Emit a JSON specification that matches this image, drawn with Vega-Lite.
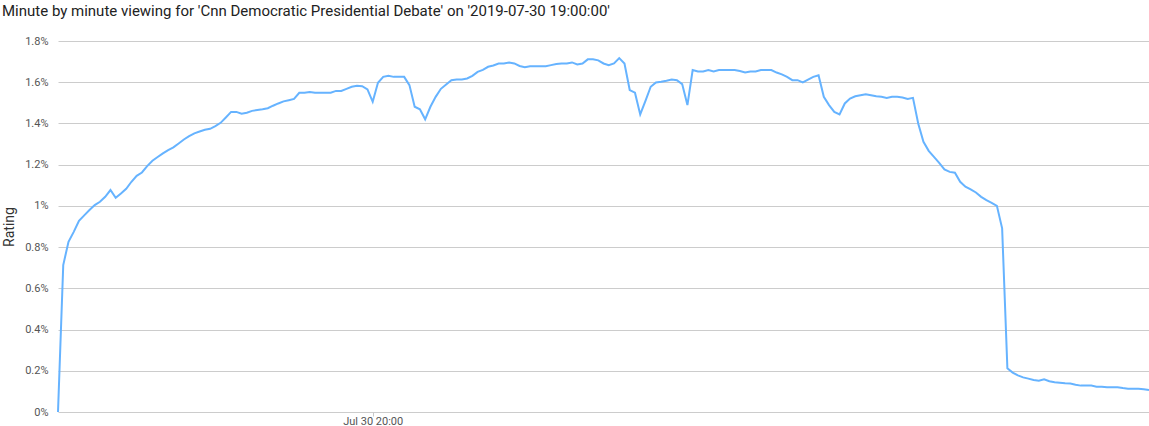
{
  "$schema": "https://vega.github.io/schema/vega-lite/v6.json",
  "autosize": {"type": "none"},
  "padding": {"left": 58, "top": 41, "right": 0, "bottom": 14},
  "width": 1091,
  "height": 371,
  "title": {
    "text": "Minute by minute viewing for 'Cnn Democratic Presidential Debate' on '2019-07-30 19:00:00'",
    "anchor": "start",
    "frame": "group",
    "dx": -56,
    "offset": 16,
    "font": "Roboto",
    "fontSize": 15,
    "fontWeight": "normal",
    "color": "#222222"
  },
  "config": {
    "view": {"stroke": null},
    "font": "Roboto"
  },
  "data": {
    "values": [
      {"t": "2019-07-30T19:00:00", "r": 0},
      {"t": "2019-07-30T19:01:00", "r": 0.713},
      {"t": "2019-07-30T19:02:00", "r": 0.826},
      {"t": "2019-07-30T19:03:00", "r": 0.874},
      {"t": "2019-07-30T19:04:00", "r": 0.928},
      {"t": "2019-07-30T19:05:00", "r": 0.954},
      {"t": "2019-07-30T19:06:00", "r": 0.98},
      {"t": "2019-07-30T19:07:00", "r": 1.004},
      {"t": "2019-07-30T19:08:00", "r": 1.02},
      {"t": "2019-07-30T19:09:00", "r": 1.044},
      {"t": "2019-07-30T19:10:00", "r": 1.077},
      {"t": "2019-07-30T19:11:00", "r": 1.039},
      {"t": "2019-07-30T19:12:00", "r": 1.06},
      {"t": "2019-07-30T19:13:00", "r": 1.083},
      {"t": "2019-07-30T19:14:00", "r": 1.117},
      {"t": "2019-07-30T19:15:00", "r": 1.146},
      {"t": "2019-07-30T19:16:00", "r": 1.162},
      {"t": "2019-07-30T19:17:00", "r": 1.193},
      {"t": "2019-07-30T19:18:00", "r": 1.219},
      {"t": "2019-07-30T19:19:00", "r": 1.237},
      {"t": "2019-07-30T19:20:00", "r": 1.255},
      {"t": "2019-07-30T19:21:00", "r": 1.271},
      {"t": "2019-07-30T19:22:00", "r": 1.284},
      {"t": "2019-07-30T19:23:00", "r": 1.303},
      {"t": "2019-07-30T19:24:00", "r": 1.322},
      {"t": "2019-07-30T19:25:00", "r": 1.338},
      {"t": "2019-07-30T19:26:00", "r": 1.352},
      {"t": "2019-07-30T19:27:00", "r": 1.361},
      {"t": "2019-07-30T19:28:00", "r": 1.369},
      {"t": "2019-07-30T19:29:00", "r": 1.374},
      {"t": "2019-07-30T19:30:00", "r": 1.387},
      {"t": "2019-07-30T19:31:00", "r": 1.403},
      {"t": "2019-07-30T19:32:00", "r": 1.429},
      {"t": "2019-07-30T19:33:00", "r": 1.456},
      {"t": "2019-07-30T19:34:00", "r": 1.456},
      {"t": "2019-07-30T19:35:00", "r": 1.447},
      {"t": "2019-07-30T19:36:00", "r": 1.452},
      {"t": "2019-07-30T19:37:00", "r": 1.461},
      {"t": "2019-07-30T19:38:00", "r": 1.465},
      {"t": "2019-07-30T19:39:00", "r": 1.469},
      {"t": "2019-07-30T19:40:00", "r": 1.474},
      {"t": "2019-07-30T19:41:00", "r": 1.486},
      {"t": "2019-07-30T19:42:00", "r": 1.497},
      {"t": "2019-07-30T19:43:00", "r": 1.507},
      {"t": "2019-07-30T19:44:00", "r": 1.513},
      {"t": "2019-07-30T19:45:00", "r": 1.519},
      {"t": "2019-07-30T19:46:00", "r": 1.549},
      {"t": "2019-07-30T19:47:00", "r": 1.549},
      {"t": "2019-07-30T19:48:00", "r": 1.553},
      {"t": "2019-07-30T19:49:00", "r": 1.549},
      {"t": "2019-07-30T19:50:00", "r": 1.549},
      {"t": "2019-07-30T19:51:00", "r": 1.549},
      {"t": "2019-07-30T19:52:00", "r": 1.549},
      {"t": "2019-07-30T19:53:00", "r": 1.558},
      {"t": "2019-07-30T19:54:00", "r": 1.558},
      {"t": "2019-07-30T19:55:00", "r": 1.568},
      {"t": "2019-07-30T19:56:00", "r": 1.578},
      {"t": "2019-07-30T19:57:00", "r": 1.583},
      {"t": "2019-07-30T19:58:00", "r": 1.581},
      {"t": "2019-07-30T19:59:00", "r": 1.565},
      {"t": "2019-07-30T20:00:00", "r": 1.505},
      {"t": "2019-07-30T20:01:00", "r": 1.597},
      {"t": "2019-07-30T20:02:00", "r": 1.626},
      {"t": "2019-07-30T20:03:00", "r": 1.631},
      {"t": "2019-07-30T20:04:00", "r": 1.626},
      {"t": "2019-07-30T20:05:00", "r": 1.626},
      {"t": "2019-07-30T20:06:00", "r": 1.626},
      {"t": "2019-07-30T20:07:00", "r": 1.586},
      {"t": "2019-07-30T20:08:00", "r": 1.481},
      {"t": "2019-07-30T20:09:00", "r": 1.469},
      {"t": "2019-07-30T20:10:00", "r": 1.42},
      {"t": "2019-07-30T20:11:00", "r": 1.481},
      {"t": "2019-07-30T20:12:00", "r": 1.529},
      {"t": "2019-07-30T20:13:00", "r": 1.568},
      {"t": "2019-07-30T20:14:00", "r": 1.589},
      {"t": "2019-07-30T20:15:00", "r": 1.61},
      {"t": "2019-07-30T20:16:00", "r": 1.613},
      {"t": "2019-07-30T20:17:00", "r": 1.613},
      {"t": "2019-07-30T20:18:00", "r": 1.618},
      {"t": "2019-07-30T20:19:00", "r": 1.631},
      {"t": "2019-07-30T20:20:00", "r": 1.65},
      {"t": "2019-07-30T20:21:00", "r": 1.66},
      {"t": "2019-07-30T20:22:00", "r": 1.675},
      {"t": "2019-07-30T20:23:00", "r": 1.681},
      {"t": "2019-07-30T20:24:00", "r": 1.691},
      {"t": "2019-07-30T20:25:00", "r": 1.691},
      {"t": "2019-07-30T20:26:00", "r": 1.696},
      {"t": "2019-07-30T20:27:00", "r": 1.691},
      {"t": "2019-07-30T20:28:00", "r": 1.679},
      {"t": "2019-07-30T20:29:00", "r": 1.673},
      {"t": "2019-07-30T20:30:00", "r": 1.678},
      {"t": "2019-07-30T20:31:00", "r": 1.678},
      {"t": "2019-07-30T20:32:00", "r": 1.678},
      {"t": "2019-07-30T20:33:00", "r": 1.678},
      {"t": "2019-07-30T20:34:00", "r": 1.683},
      {"t": "2019-07-30T20:35:00", "r": 1.688},
      {"t": "2019-07-30T20:36:00", "r": 1.691},
      {"t": "2019-07-30T20:37:00", "r": 1.691},
      {"t": "2019-07-30T20:38:00", "r": 1.696},
      {"t": "2019-07-30T20:39:00", "r": 1.686},
      {"t": "2019-07-30T20:40:00", "r": 1.691},
      {"t": "2019-07-30T20:41:00", "r": 1.711},
      {"t": "2019-07-30T20:42:00", "r": 1.711},
      {"t": "2019-07-30T20:43:00", "r": 1.706},
      {"t": "2019-07-30T20:44:00", "r": 1.691},
      {"t": "2019-07-30T20:45:00", "r": 1.683},
      {"t": "2019-07-30T20:46:00", "r": 1.691},
      {"t": "2019-07-30T20:47:00", "r": 1.717},
      {"t": "2019-07-30T20:48:00", "r": 1.691},
      {"t": "2019-07-30T20:49:00", "r": 1.562},
      {"t": "2019-07-30T20:50:00", "r": 1.549},
      {"t": "2019-07-30T20:51:00", "r": 1.444},
      {"t": "2019-07-30T20:52:00", "r": 1.51},
      {"t": "2019-07-30T20:53:00", "r": 1.578},
      {"t": "2019-07-30T20:54:00", "r": 1.599},
      {"t": "2019-07-30T20:55:00", "r": 1.602},
      {"t": "2019-07-30T20:56:00", "r": 1.607},
      {"t": "2019-07-30T20:57:00", "r": 1.613},
      {"t": "2019-07-30T20:58:00", "r": 1.61},
      {"t": "2019-07-30T20:59:00", "r": 1.591},
      {"t": "2019-07-30T21:00:00", "r": 1.489},
      {"t": "2019-07-30T21:01:00", "r": 1.659},
      {"t": "2019-07-30T21:02:00", "r": 1.652},
      {"t": "2019-07-30T21:03:00", "r": 1.652},
      {"t": "2019-07-30T21:04:00", "r": 1.659},
      {"t": "2019-07-30T21:05:00", "r": 1.652},
      {"t": "2019-07-30T21:06:00", "r": 1.659},
      {"t": "2019-07-30T21:07:00", "r": 1.659},
      {"t": "2019-07-30T21:08:00", "r": 1.659},
      {"t": "2019-07-30T21:09:00", "r": 1.659},
      {"t": "2019-07-30T21:10:00", "r": 1.654},
      {"t": "2019-07-30T21:11:00", "r": 1.647},
      {"t": "2019-07-30T21:12:00", "r": 1.652},
      {"t": "2019-07-30T21:13:00", "r": 1.652},
      {"t": "2019-07-30T21:14:00", "r": 1.659},
      {"t": "2019-07-30T21:15:00", "r": 1.659},
      {"t": "2019-07-30T21:16:00", "r": 1.659},
      {"t": "2019-07-30T21:17:00", "r": 1.647},
      {"t": "2019-07-30T21:18:00", "r": 1.638},
      {"t": "2019-07-30T21:19:00", "r": 1.626},
      {"t": "2019-07-30T21:20:00", "r": 1.61},
      {"t": "2019-07-30T21:21:00", "r": 1.61},
      {"t": "2019-07-30T21:22:00", "r": 1.599},
      {"t": "2019-07-30T21:23:00", "r": 1.613},
      {"t": "2019-07-30T21:24:00", "r": 1.626},
      {"t": "2019-07-30T21:25:00", "r": 1.634},
      {"t": "2019-07-30T21:26:00", "r": 1.529},
      {"t": "2019-07-30T21:27:00", "r": 1.489},
      {"t": "2019-07-30T21:28:00", "r": 1.456},
      {"t": "2019-07-30T21:29:00", "r": 1.444},
      {"t": "2019-07-30T21:30:00", "r": 1.497},
      {"t": "2019-07-30T21:31:00", "r": 1.521},
      {"t": "2019-07-30T21:32:00", "r": 1.532},
      {"t": "2019-07-30T21:33:00", "r": 1.537},
      {"t": "2019-07-30T21:34:00", "r": 1.542},
      {"t": "2019-07-30T21:35:00", "r": 1.537},
      {"t": "2019-07-30T21:36:00", "r": 1.532},
      {"t": "2019-07-30T21:37:00", "r": 1.529},
      {"t": "2019-07-30T21:38:00", "r": 1.524},
      {"t": "2019-07-30T21:39:00", "r": 1.529},
      {"t": "2019-07-30T21:40:00", "r": 1.529},
      {"t": "2019-07-30T21:41:00", "r": 1.526},
      {"t": "2019-07-30T21:42:00", "r": 1.519},
      {"t": "2019-07-30T21:43:00", "r": 1.524},
      {"t": "2019-07-30T21:44:00", "r": 1.4},
      {"t": "2019-07-30T21:45:00", "r": 1.311},
      {"t": "2019-07-30T21:46:00", "r": 1.267},
      {"t": "2019-07-30T21:47:00", "r": 1.238},
      {"t": "2019-07-30T21:48:00", "r": 1.209},
      {"t": "2019-07-30T21:49:00", "r": 1.177},
      {"t": "2019-07-30T21:50:00", "r": 1.165},
      {"t": "2019-07-30T21:51:00", "r": 1.161},
      {"t": "2019-07-30T21:52:00", "r": 1.117},
      {"t": "2019-07-30T21:53:00", "r": 1.093},
      {"t": "2019-07-30T21:54:00", "r": 1.08},
      {"t": "2019-07-30T21:55:00", "r": 1.065},
      {"t": "2019-07-30T21:56:00", "r": 1.044},
      {"t": "2019-07-30T21:57:00", "r": 1.028},
      {"t": "2019-07-30T21:58:00", "r": 1.015},
      {"t": "2019-07-30T21:59:00", "r": 1.0},
      {"t": "2019-07-30T22:00:00", "r": 0.891},
      {"t": "2019-07-30T22:01:00", "r": 0.212},
      {"t": "2019-07-30T22:02:00", "r": 0.191},
      {"t": "2019-07-30T22:03:00", "r": 0.178},
      {"t": "2019-07-30T22:04:00", "r": 0.168},
      {"t": "2019-07-30T22:05:00", "r": 0.162},
      {"t": "2019-07-30T22:06:00", "r": 0.155},
      {"t": "2019-07-30T22:07:00", "r": 0.152},
      {"t": "2019-07-30T22:08:00", "r": 0.159},
      {"t": "2019-07-30T22:09:00", "r": 0.149},
      {"t": "2019-07-30T22:10:00", "r": 0.144},
      {"t": "2019-07-30T22:11:00", "r": 0.142},
      {"t": "2019-07-30T22:12:00", "r": 0.139},
      {"t": "2019-07-30T22:13:00", "r": 0.138},
      {"t": "2019-07-30T22:14:00", "r": 0.132},
      {"t": "2019-07-30T22:15:00", "r": 0.128},
      {"t": "2019-07-30T22:16:00", "r": 0.128},
      {"t": "2019-07-30T22:17:00", "r": 0.128},
      {"t": "2019-07-30T22:18:00", "r": 0.123},
      {"t": "2019-07-30T22:19:00", "r": 0.123},
      {"t": "2019-07-30T22:20:00", "r": 0.12},
      {"t": "2019-07-30T22:21:00", "r": 0.12},
      {"t": "2019-07-30T22:22:00", "r": 0.12},
      {"t": "2019-07-30T22:23:00", "r": 0.116},
      {"t": "2019-07-30T22:24:00", "r": 0.113},
      {"t": "2019-07-30T22:25:00", "r": 0.113},
      {"t": "2019-07-30T22:26:00", "r": 0.113},
      {"t": "2019-07-30T22:27:00", "r": 0.11},
      {"t": "2019-07-30T22:28:00", "r": 0.107}
    ]
  },
  "mark": {"type": "line", "color": "#66b3ff", "strokeWidth": 2, "clip": false},
  "encoding": {
    "x": {
      "field": "t",
      "type": "temporal",
      "scale": {"nice": false},
      "axis": {
        "title": null,
        "values": [{"year": 2019, "month": 7, "date": 30, "hours": 20, "minutes": 0}],
        "format": "%b %d %H:%M",
        "grid": false,
        "domain": false,
        "tickColor": "#c8c8c8",
        "tickSize": 4,
        "labelBaseline": "alphabetic",
        "labelPadding": 8,
        "labelColor": "#555555",
        "labelFont": "Roboto",
        "labelFontSize": 11
      }
    },
    "y": {
      "field": "r",
      "type": "quantitative",
      "scale": {"domain": [0, 1.8], "nice": false, "zero": true},
      "axis": {
        "title": "Rating",
        "values": [0, 0.2, 0.4, 0.6, 0.8, 1, 1.2, 1.4, 1.6, 1.8],
        "labelExpr": "format(datum.value, '.1~f') + '%'",
        "ticks": false,
        "domain": false,
        "labelPadding": 10,
        "gridColor": "#cccccc",
        "gridWidth": 1,
        "labelColor": "#555555",
        "labelFont": "Roboto",
        "labelFontSize": 11,
        "titleFont": "Roboto",
        "titleFontSize": 14,
        "titleFontWeight": "normal",
        "titleColor": "#333333",
        "titlePadding": 8
      }
    }
  }
}
